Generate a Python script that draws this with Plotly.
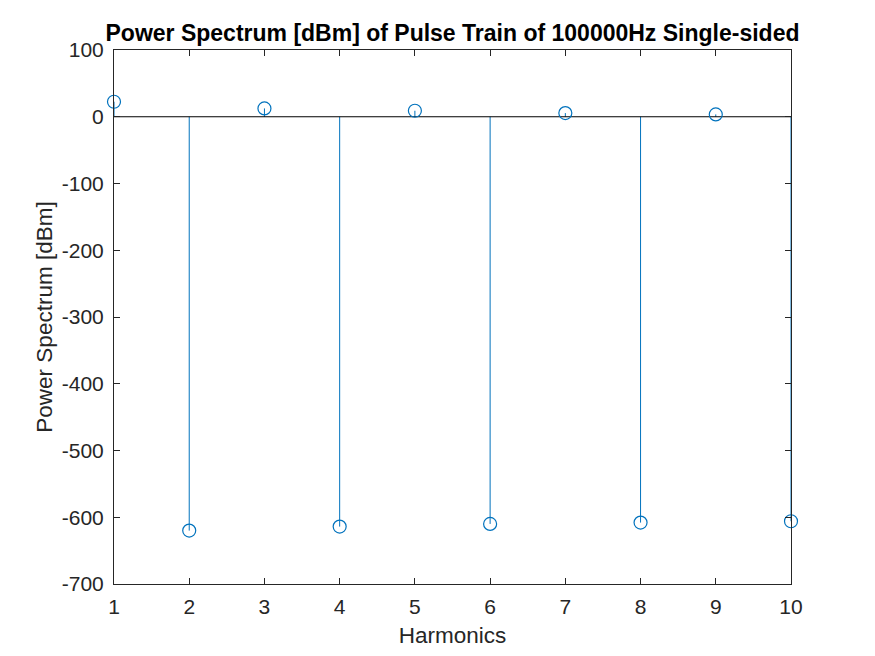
import plotly.graph_objects as go

harmonics = [1, 2, 3, 4, 5, 6, 7, 8, 9, 10]
power_dbm = [22.5, -620, 12.5, -614, 9, -610, 5.5, -608, 3.5, -606]

x_ticks = list(range(1, 11))
y_ticks = list(range(-700, 101, 100))
y_tick_text = [str(v) for v in y_ticks]

BLUE = "#0072BD"
AX = "#262626"

stem_x, stem_y = [], []
for h, p in zip(harmonics, power_dbm):
    stem_x += [h, h, None]
    stem_y += [0, p, None]

fig = go.Figure()
fig.add_trace(go.Scatter(x=stem_x, y=stem_y, mode="lines",
                         line=dict(color=BLUE, width=1), hoverinfo="skip",
                         showlegend=False))
fig.add_trace(go.Scatter(x=[harmonics[0], harmonics[-1]], y=[0, 0], mode="lines",
                         line=dict(color="black", width=1), showlegend=False))
fig.add_trace(go.Scatter(x=harmonics, y=power_dbm, mode="markers",
                         marker=dict(symbol="circle-open", size=13,
                                     color=BLUE, line=dict(width=1.2, color=BLUE)),
                         showlegend=False, cliponaxis=False))

font = "Liberation Sans, Arial, Helvetica, sans-serif"
fig.update_layout(
    width=875, height=656,
    margin=dict(l=106, r=92, t=42, b=80),
    paper_bgcolor="white", plot_bgcolor="white",
    font=dict(family=font, size=21, color=AX),
    title=dict(text="<b>Power Spectrum [dBm] of Pulse Train of 100000Hz Single-sided</b>",
               x=(452.5 - 8) / 875, xanchor="center", y=1 - 25 / 656, yanchor="middle",
               font=dict(size=23, color="black", family=font)),
    xaxis=dict(range=[1, 10], tickvals=x_ticks, ticks="inside", ticklen=6,
               tickcolor=AX, showline=True, linecolor=AX, linewidth=1,
               mirror="ticks", showgrid=False, zeroline=False, ticklabelstandoff=4,
               title=dict(text="Harmonics", standoff=10, font=dict(size=22.5))),
    yaxis=dict(range=[-700, 100], tickvals=y_ticks, ticktext=y_tick_text,
               ticks="inside", ticklen=6,
               tickcolor=AX, showline=True, linecolor=AX, linewidth=1,
               mirror="ticks", showgrid=False, zeroline=False, ticklabelstandoff=5,
               title=dict(text="Power Spectrum [dBm]", standoff=2, font=dict(size=22.5))),
)

fig.write_html("out.html")
